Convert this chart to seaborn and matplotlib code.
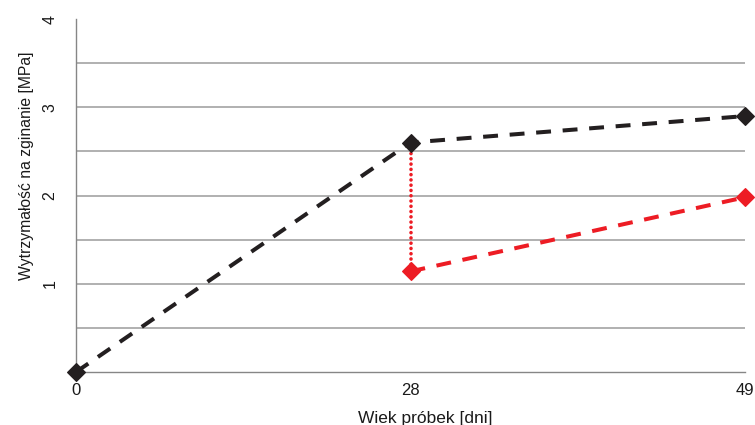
import numpy as np
import pandas as pd
import matplotlib
matplotlib.use("Agg")
import matplotlib.pyplot as plt
import seaborn as sns

# ---- data ----
days = ["0", "28", "49"]
series_black = [0.0, 2.6, 2.9]
red_days = ["28", "49"]
series_red = [1.14, 1.98]
y_ticks = [0.5, 1.0, 1.5, 2.0, 2.5, 3.0, 3.5, 4.0]
y_labels = ["", "1", "", "2", "", "3", "", "4"]
xlabel = "Wiek próbek [dni]"
ylabel = "Wytrzymałość na zginanie [MPa]"

sns.set_theme(style="white")
plt.rcParams['font.family'] = ['Liberation Sans', 'DejaVu Sans']

BLACK = "#231f20"
RED = "#ed1c24"
GRID = "#a3a3a3"
AXIS = "#868686"

fig = plt.figure(figsize=(7.55, 4.25), dpi=100)
ax = fig.add_axes([76/755, 1-372/425, 669/755, 353/425])

pos = {d: i for i, d in enumerate(days)}
df_b = pd.DataFrame({"x": [pos[d] for d in days], "y": series_black})
df_r = pd.DataFrame({"x": [pos[d] for d in red_days], "y": series_red})

# vertical dotted connector at day 28 (from black value to red value)
i28 = days.index(red_days[0])
df_v = pd.DataFrame({"x": [pos[red_days[0]]] * 2,
                     "y": [series_black[i28], series_red[0]]})
sns.lineplot(data=df_v, x="x", y="y", ax=ax, color=RED, linewidth=2.6,
             linestyle=(0, (0.01, 1.45)), dash_capstyle="round",
             zorder=3, sort=False, estimator=None)

sns.lineplot(data=df_r, x="x", y="y", ax=ax, color=RED, linewidth=2.9,
             linestyle=(0, (3.7, 2.9)), dash_capstyle="butt",
             marker="D", markersize=9.0, markeredgewidth=0.8,
             markeredgecolor=RED, zorder=4, clip_on=False, estimator=None)
sns.lineplot(data=df_b, x="x", y="y", ax=ax, color=BLACK, linewidth=2.9,
             linestyle=(0, (3.7, 2.9)), dash_capstyle="butt",
             marker="D", markersize=9.0, markeredgewidth=0.8,
             markeredgecolor=BLACK, zorder=5, clip_on=False, estimator=None)

ax.set_xlim(0, len(days) - 1)
ax.set_ylim(0, 4)

ax.set_xticks(range(len(days)))
ax.set_xticklabels(days, fontsize=12, color="#1a1a1a")
ax.tick_params(axis="x", direction="in", length=4, width=1, color=AXIS, pad=8)

ax.set_yticks(y_ticks)
ax.set_yticklabels(y_labels, fontsize=11.5, color="#1a1a1a", rotation=90)
for t in ax.get_yticklabels():
    t.set_ha("center")
    t.set_va("center")
ax.tick_params(axis="y", which="both", direction="out", length=3, width=1,
               color=AXIS, pad=15.8)
ax.yaxis.grid(True, color=GRID, linewidth=1.2)
ax.xaxis.grid(False)
# no gridline at the top value
ax.yaxis.get_major_ticks()[-1].gridline.set_visible(False)
ax.set_axisbelow(True)

for s in ["top", "right"]:
    ax.spines[s].set_visible(False)
for s in ["left", "bottom"]:
    ax.spines[s].set_color(AXIS)
    ax.spines[s].set_linewidth(1.0)

ax.set_xlabel(xlabel, fontsize=12.5, color="#1a1a1a")
ax.xaxis.label.set_va("baseline")
ax.xaxis.set_label_coords((425-76)/669, (372-423)/353)
ax.set_ylabel(ylabel, fontsize=11.3, color="#1a1a1a")
ax.yaxis.label.set_va("center")
ax.yaxis.label.set_ha("center")
ax.yaxis.set_label_coords((26.5-76)/669, (372-166)/353)

fig.savefig("out.png", dpi=100)
